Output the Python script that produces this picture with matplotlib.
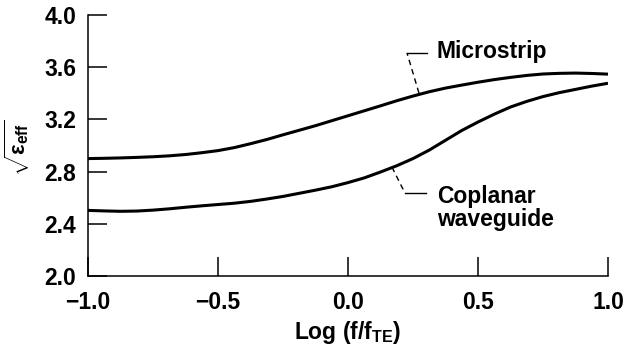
import matplotlib.pyplot as plt

plt.rcParams['font.family'] = ['Liberation Sans', 'DejaVu Sans']
plt.rcParams['font.weight'] = 'bold'
plt.rcParams['axes.labelweight'] = 'bold'
plt.rcParams['mathtext.fontset'] = 'custom'
plt.rcParams['mathtext.rm'] = 'Liberation Sans:bold'
plt.rcParams['mathtext.it'] = 'Liberation Sans:italic:bold'
plt.rcParams['mathtext.bf'] = 'Liberation Sans:bold'

# log(f/fTE) sample points
log_f = [-1.0, -0.9375, -0.875, -0.8125, -0.75, -0.6875, -0.625, -0.5625,
         -0.5, -0.4375, -0.375, -0.3125, -0.25, -0.1875, -0.125, -0.0625,
         0.0, 0.0625, 0.125, 0.1875, 0.25, 0.3125, 0.375, 0.4375,
         0.5, 0.5625, 0.625, 0.6875, 0.75, 0.8125, 0.875, 0.9375, 1.0]

# sqrt(eps_eff)
microstrip = [2.900, 2.902, 2.905, 2.909, 2.914, 2.921, 2.931, 2.945,
              2.961, 2.984, 3.014, 3.046, 3.082, 3.117, 3.152, 3.190,
              3.228, 3.266, 3.304, 3.343, 3.379, 3.412, 3.440, 3.463,
              3.485, 3.505, 3.522, 3.537, 3.548, 3.553, 3.555, 3.552, 3.547]
coplanar = [2.503, 2.499, 2.496, 2.498, 2.505, 2.515, 2.527, 2.538,
            2.548, 2.558, 2.572, 2.590, 2.610, 2.634, 2.658, 2.684,
            2.716, 2.752, 2.797, 2.845, 2.900, 2.965, 3.040, 3.115,
            3.180, 3.240, 3.295, 3.338, 3.375, 3.405, 3.430, 3.455, 3.477]

x_ticks = [-1.0, -0.5, 0.0, 0.5, 1.0]
x_labels = ['\u22121.0', '\u22120.5', '0.0', '0.5', '1.0']
y_ticks = [2.0, 2.4, 2.8, 3.2, 3.6, 4.0]
y_labels = ['2.0', '2.4', '2.8', '3.2', '3.6', '4.0']

fig = plt.figure(figsize=(6.26, 3.53), dpi=100)
ax = fig.add_axes([0.1406, 0.218, 0.8306, 0.7395])

ax.plot(log_f, microstrip, color='black', lw=2.2, solid_capstyle='butt')
ax.plot(log_f, coplanar, color='black', lw=2.2, solid_capstyle='butt')

ax.set_xlim(-1.0, 1.0)
ax.set_ylim(2.0, 4.0)
ax.set_xticks(x_ticks)
ax.set_xticklabels(x_labels)
ax.set_yticks(y_ticks)
ax.set_yticklabels(y_labels)
ax.tick_params(direction='in', length=14, width=1.1, labelsize=16.5, color='black')
ax.tick_params(axis='x', pad=11)
ax.tick_params(axis='y', pad=8.5)

for side in ['top', 'right']:
    ax.spines[side].set_visible(False)
for side in ['left', 'bottom']:
    ax.spines[side].set_linewidth(1.1)

ax.set_xlabel(r'Log (f/f$_{\mathrm{TE}}$)', fontsize=16.5)
ax.xaxis.set_label_coords(0.5, -0.163)
ax.set_ylabel(r'$\sqrt{\mathbf{\varepsilon}_{\mathrm{eff}}}$', fontsize=16)
ax.yaxis.set_label_coords(-0.108, 0.49)

# leader lines and labels
ax.plot([0.273, 0.227], [3.402, 3.709], color='black', lw=1.0, ls=(0, (4, 3)))
ax.plot([0.227, 0.304], [3.709, 3.709], color='black', lw=1.0)
ax.text(0.342, 3.717, 'Microstrip', fontsize=16.5, va='center', ha='left')

ax.plot([0.169, 0.219], [2.835, 2.636], color='black', lw=1.0, ls=(0, (4, 3)))
ax.plot([0.219, 0.300], [2.636, 2.636], color='black', lw=1.0)
ax.text(0.342, 2.52, 'Coplanar\nwaveguide', fontsize=16.5, va='center', ha='left',
        linespacing=1.0)

fig.savefig('out.png', dpi=100)
